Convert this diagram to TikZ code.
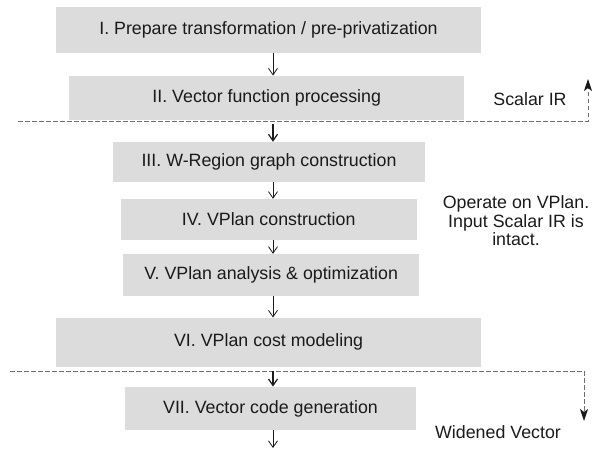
\documentclass[tikz,border=0pt]{standalone}
\usepackage{fontspec}
\setmainfont{Liberation Sans}
\usetikzlibrary{arrows.meta}
\definecolor{boxgray}{HTML}{DCDCDC}
\definecolor{dashgray}{HTML}{6E6E6E}
\definecolor{ink}{HTML}{1A1A1A}
\begin{document}
\begin{tikzpicture}[x=1pt,y=-1pt,
  stagebox/.style={rectangle, fill=boxgray, draw=none, inner sep=0pt, text=ink,
    font=\fontsize{17.8}{20}\selectfont},
  flowarrow/.style={draw=ink, line width=0.8pt, -{Straight Barb[length=6.5pt,width=9pt]}},
  thickarrow/.style={draw=ink, line width=1.2pt, -{Straight Barb[length=6.5pt,width=9pt]}},
  dashline/.style={draw=dashgray, line width=0.9pt, dash pattern=on 4.5pt off 2.5pt},
  dasharrow/.style={dashline, -{Stealth[length=12pt,width=8pt,inset=3pt,color=ink,fill=ink]}},
  sidetext/.style={text=ink, font=\fontsize{17.8}{18.5}\selectfont, align=center, inner sep=0pt}
]
\useasboundingbox (0,0) rectangle (592,450);

% dashed boundaries
\coordinate (ta) at (18,121);
\coordinate (tb) at (588,121);
\coordinate (tc) at (588,79);
\coordinate (ba) at (10,371);
\coordinate (bb) at (584,371);
\coordinate (bc) at (584,421);
\draw[dasharrow] (ta) -- (tb) -- (tc);
\draw[dasharrow] (ba) -- (bb) -- (bc);

% stages
\node[stagebox, minimum width=425.7pt, minimum height=45.5pt] (b1) at (268.5,29.75) {I. Prepare transformation / pre-privatization};
\node[stagebox, minimum width=395.3pt, minimum height=44.3pt] (b2) at (266.7,97.9) {II. Vector function processing};
\node[stagebox, minimum width=311.3pt, minimum height=40pt] (b3) at (269,162) {III. W-Region graph construction};
\node[stagebox, minimum width=295.6pt, minimum height=41pt] (b4) at (268.7,219.5) {IV. VPlan construction};
\node[stagebox, minimum width=295.5pt, minimum height=41.7pt] (b5) at (271.2,274.9) {V. VPlan analysis \& optimization};
\node[stagebox, minimum width=425.3pt, minimum height=49pt] (b6) at (268.6,342.2) {VI. VPlan cost modeling};
\node[stagebox, minimum width=291.7pt, minimum height=43.3pt] (b7) at (270.5,408.4) {VII. Vector code generation};

% arrow axis
\coordinate (ax) at (273,0);
\coordinate (endpt) at (273,448);
\draw[flowarrow] (b1.south -| ax) -- (b2.north -| ax);
\draw[thickarrow] ([yshift=-4pt]b2.south -| ax) -- (b3.north -| ax);
\draw[flowarrow] (b3.south -| ax) -- (b4.north -| ax);
\draw[flowarrow] (b4.south -| ax) -- (b5.north -| ax);
\draw[flowarrow] (b5.south -| ax) -- (b6.north -| ax);
\draw[thickarrow] ([yshift=-4pt]b6.south -| ax) -- (b7.north -| ax);
\draw[flowarrow] (b7.south -| ax) -- (endpt);

% side labels
\node[sidetext] (scalar) at (530,99) {Scalar IR};
\node[sidetext] (operate) at (516,221) {Operate on VPlan.\\Input Scalar IR is\\intact.};
\node[sidetext] (widened) at (498,432) {Widened Vector};
\end{tikzpicture}
\end{document}
